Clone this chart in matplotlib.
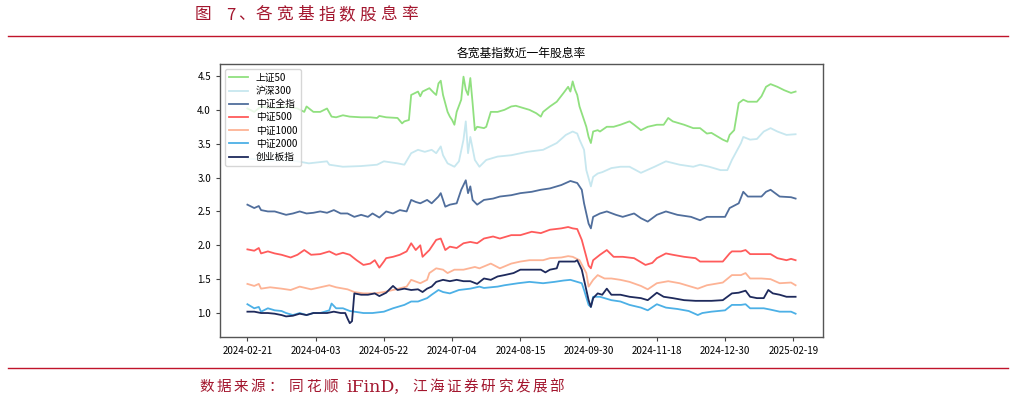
import numpy as np
import matplotlib
matplotlib.use("Agg")
import matplotlib.pyplot as plt

plt.rcParams['font.family'] = ['Noto Sans CJK SC', 'DejaVu Sans']
plt.rcParams['axes.unicode_minus'] = False

# x = trading-day index counted from 2024-02-21
tick_labels = ['2024-02-21', '2024-04-03', '2024-05-22', '2024-07-04', '2024-08-15',
               '2024-09-30', '2024-11-18', '2024-12-30', '2025-02-19']
tick_idx = [0, 30, 60, 90, 120, 150, 180, 210, 240]

sz50_idx = [0, 3, 6, 9, 13, 17, 22, 25, 26, 29, 32, 35, 37, 39, 42, 45, 50, 54, 57, 58, 61, 66, 68,
            69, 71, 72, 75, 76, 77, 80, 82, 83, 84, 85, 86, 88, 89, 90, 91, 92, 94, 95, 96, 97, 98, 99,
            100, 101, 104, 105, 107, 110, 113, 116, 118, 121, 124, 127, 129, 130, 133, 136, 139, 141,
            142, 143, 144, 145, 146, 149, 150, 151, 152, 154, 155, 158, 161, 164, 168, 170, 173, 176,
            180, 183, 185, 187, 192, 196, 199, 202, 204, 207, 209, 211, 212, 214, 216, 218, 220, 224,
            226, 228, 230, 233, 236, 239, 241]
sz50_val = [4.02, 3.97, 4.05, 4.03, 4.02, 4.05, 4.02, 3.97, 4.05, 3.97, 3.97, 4.02, 3.90, 3.89, 3.92,
            3.90, 3.89, 3.89, 3.88, 3.91, 3.89, 3.88, 3.80, 3.83, 3.85, 4.22, 4.27, 4.20, 4.27, 4.32,
            4.25, 4.22, 4.39, 4.43, 4.22, 3.97, 3.90, 3.85, 3.78, 3.97, 4.15, 4.49, 4.30, 4.22, 4.47,
            4.10, 3.70, 3.75, 3.73, 3.75, 3.97, 3.97, 4.00, 4.05, 4.06, 4.03, 4.00, 3.95, 3.90, 3.97,
            4.05, 4.12, 4.25, 4.34, 4.27, 4.42, 4.30, 4.22, 4.05, 3.75, 3.60, 3.51, 3.68, 3.70, 3.68,
            3.75, 3.75, 3.78, 3.83, 3.78, 3.70, 3.75, 3.78, 3.78, 3.88, 3.83, 3.78, 3.73, 3.73, 3.65,
            3.66, 3.60, 3.56, 3.53, 3.63, 3.70, 4.10, 4.15, 4.12, 4.12, 4.20, 4.34, 4.38, 4.34, 4.29,
            4.25, 4.27]

hs300_idx = [0, 5, 10, 15, 22, 27, 35, 36, 42, 50, 57, 60, 66, 69, 72, 75, 78, 81, 83, 85, 86, 88,
             91, 93, 95, 96, 97, 98, 100, 102, 105, 110, 116, 123, 130, 136, 140, 143, 145, 146, 148,
             149, 151, 152, 154, 156, 160, 164, 168, 173, 179, 184, 190, 196, 199, 203, 208, 211, 213,
             217, 218, 221, 224, 227, 230, 233, 237, 241]
hs300_val = [3.28, 3.27, 3.25, 3.26, 3.24, 3.21, 3.24, 3.19, 3.16, 3.17, 3.19, 3.24, 3.21, 3.19, 3.36,
             3.41, 3.38, 3.41, 3.36, 3.46, 3.33, 3.21, 3.16, 3.24, 3.56, 3.83, 3.36, 3.60, 3.26, 3.16,
             3.26, 3.31, 3.33, 3.38, 3.41, 3.51, 3.63, 3.68, 3.65, 3.56, 3.41, 3.11, 2.87, 3.01, 3.06,
             3.08, 3.14, 3.16, 3.16, 3.07, 3.16, 3.24, 3.19, 3.16, 3.19, 3.16, 3.11, 3.11, 3.26, 3.51,
             3.60, 3.56, 3.57, 3.68, 3.73, 3.68, 3.63, 3.64]

zzqz_idx = [0, 3, 5, 6, 9, 12, 15, 17, 20, 23, 26, 29, 32, 35, 38, 41, 44, 47, 50, 53, 55, 58, 61,
            64, 67, 70, 72, 74, 76, 79, 81, 84, 85, 87, 89, 92, 94, 96, 97, 98, 99, 101, 104, 108,
            111, 116, 120, 125, 129, 133, 138, 142, 145, 147, 148, 150, 151, 152, 155, 158, 162, 165,
            170, 173, 176, 180, 184, 189, 195, 199, 202, 207, 210, 212, 216, 218, 220, 223, 226, 228,
            230, 232, 234, 239, 241]
zzqz_val = [2.60, 2.55, 2.58, 2.52, 2.50, 2.50, 2.47, 2.45, 2.47, 2.50, 2.47, 2.48, 2.50, 2.48, 2.52,
            2.47, 2.47, 2.42, 2.45, 2.42, 2.47, 2.41, 2.50, 2.47, 2.52, 2.50, 2.67, 2.64, 2.62, 2.67,
            2.62, 2.72, 2.77, 2.57, 2.60, 2.62, 2.82, 2.96, 2.77, 2.87, 2.67, 2.60, 2.67, 2.69, 2.72,
            2.74, 2.77, 2.79, 2.82, 2.84, 2.89, 2.95, 2.92, 2.82, 2.62, 2.32, 2.25, 2.42, 2.47, 2.50,
            2.45, 2.42, 2.47, 2.40, 2.35, 2.45, 2.50, 2.45, 2.42, 2.37, 2.42, 2.42, 2.42, 2.55, 2.62,
            2.79, 2.72, 2.72, 2.72, 2.79, 2.82, 2.77, 2.72, 2.71, 2.69]

zz500_idx = [0, 3, 5, 6, 9, 12, 15, 19, 22, 25, 28, 32, 36, 39, 42, 45, 48, 51, 54, 56, 58, 60, 61,
             64, 67, 70, 72, 74, 76, 77, 80, 83, 85, 87, 89, 92, 95, 98, 101, 104, 108, 111, 116, 120,
             125, 129, 133, 138, 141, 143, 145, 147, 149, 150, 151, 152, 155, 158, 161, 165, 170, 175,
             178, 180, 184, 187, 192, 197, 199, 204, 209, 212, 213, 217, 219, 221, 227, 230, 233, 237,
             239, 241]
zz500_val = [1.94, 1.92, 1.96, 1.88, 1.91, 1.88, 1.86, 1.82, 1.86, 1.93, 1.86, 1.87, 1.91, 1.86, 1.89,
             1.86, 1.78, 1.71, 1.73, 1.78, 1.67, 1.76, 1.81, 1.83, 1.86, 1.91, 2.03, 1.93, 2.00, 1.83,
             1.93, 2.08, 2.10, 1.93, 1.98, 1.96, 2.03, 2.05, 2.03, 2.10, 2.13, 2.10, 2.15, 2.15, 2.20,
             2.18, 2.23, 2.25, 2.27, 2.25, 2.24, 2.08, 1.83, 1.70, 1.66, 1.78, 1.86, 1.93, 1.83, 1.83,
             1.81, 1.71, 1.74, 1.81, 1.88, 1.86, 1.83, 1.81, 1.76, 1.76, 1.76, 1.88, 1.91, 1.91, 1.93,
             1.87, 1.87, 1.87, 1.81, 1.78, 1.80, 1.78]

zz1000_idx = [0, 3, 5, 6, 10, 15, 19, 23, 28, 32, 36, 39, 44, 47, 51, 56, 60, 64, 70, 72, 76, 79,
              80, 83, 86, 88, 91, 95, 100, 102, 107, 111, 116, 120, 124, 130, 133, 138, 141, 143, 146,
              149, 150, 152, 154, 157, 160, 164, 168, 173, 176, 180, 185, 190, 193, 198, 202, 209, 213,
              217, 219, 221, 226, 230, 234, 239, 241]
zz1000_val = [1.43, 1.40, 1.43, 1.36, 1.38, 1.36, 1.34, 1.39, 1.35, 1.38, 1.41, 1.38, 1.35, 1.31, 1.29,
              1.29, 1.31, 1.34, 1.39, 1.49, 1.44, 1.49, 1.59, 1.66, 1.64, 1.59, 1.64, 1.64, 1.68, 1.66,
              1.73, 1.66, 1.73, 1.76, 1.78, 1.78, 1.81, 1.82, 1.84, 1.83, 1.78, 1.59, 1.39, 1.49, 1.56,
              1.51, 1.51, 1.49, 1.46, 1.40, 1.35, 1.44, 1.47, 1.44, 1.41, 1.36, 1.41, 1.45, 1.56, 1.56,
              1.59, 1.51, 1.51, 1.50, 1.44, 1.45, 1.41]

zz2000_idx = [0, 3, 5, 6, 9, 12, 15, 17, 20, 23, 26, 29, 32, 36, 37, 39, 42, 45, 47, 51, 55, 60, 64,
              69, 72, 75, 79, 81, 84, 86, 89, 93, 98, 102, 104, 110, 113, 119, 124, 130, 135, 139, 142,
              145, 147, 148, 150, 151, 152, 155, 160, 164, 168, 173, 176, 180, 184, 189, 194, 198, 200,
              204, 210, 213, 217, 219, 221, 227, 230, 234, 239, 241]
zz2000_val = [1.13, 1.07, 1.09, 1.02, 1.07, 1.04, 1.03, 1.00, 0.97, 1.00, 0.97, 1.00, 1.00, 1.04, 1.14,
              1.07, 1.07, 1.03, 1.02, 1.00, 1.00, 1.02, 1.07, 1.12, 1.17, 1.17, 1.22, 1.27, 1.34, 1.31,
              1.29, 1.34, 1.36, 1.39, 1.37, 1.39, 1.41, 1.44, 1.46, 1.44, 1.46, 1.48, 1.49, 1.46, 1.44,
              1.34, 1.12, 1.09, 1.24, 1.24, 1.19, 1.17, 1.12, 1.08, 1.04, 1.13, 1.08, 1.06, 1.03, 0.97,
              1.00, 1.02, 1.04, 1.12, 1.12, 1.13, 1.07, 1.07, 1.05, 1.02, 1.02, 0.99]

cyb_idx = [0, 3, 6, 9, 12, 15, 17, 20, 23, 26, 29, 32, 35, 38, 41, 43, 44, 45, 46, 47, 50, 53, 56,
           58, 61, 64, 66, 69, 72, 75, 77, 79, 81, 83, 86, 89, 92, 95, 98, 101, 104, 107, 110, 113,
           117, 120, 124, 129, 131, 133, 136, 137, 141, 144, 145, 146, 147, 149, 150, 151, 152, 154,
           156, 158, 160, 164, 168, 173, 176, 180, 183, 187, 192, 197, 204, 209, 213, 216, 219, 221,
           224, 227, 229, 231, 234, 237, 241]
cyb_val = [1.02, 1.02, 1.00, 1.00, 0.99, 0.97, 0.95, 0.96, 0.99, 0.97, 1.00, 1.00, 1.00, 1.02, 1.00,
           1.00, 0.92, 0.85, 0.88, 1.29, 1.27, 1.27, 1.29, 1.25, 1.30, 1.40, 1.34, 1.36, 1.34, 1.35,
           1.31, 1.36, 1.39, 1.46, 1.49, 1.47, 1.49, 1.47, 1.47, 1.43, 1.51, 1.49, 1.54, 1.56, 1.59,
           1.64, 1.64, 1.64, 1.60, 1.64, 1.66, 1.76, 1.76, 1.76, 1.78, 1.71, 1.64, 1.34, 1.19, 1.09,
           1.22, 1.29, 1.27, 1.36, 1.27, 1.27, 1.24, 1.22, 1.19, 1.30, 1.24, 1.22, 1.19, 1.18, 1.18,
           1.19, 1.29, 1.30, 1.33, 1.24, 1.22, 1.22, 1.34, 1.29, 1.27, 1.24, 1.24]

series = [
    ('上证50', sz50_idx, sz50_val, '#90e07f'),
    ('沪深300', hs300_idx, hs300_val, '#c7e7ef'),
    ('中证全指', zzqz_idx, zzqz_val, '#506e9c'),
    ('中证500', zz500_idx, zz500_val, '#ff5b5b'),
    ('中证1000', zz1000_idx, zz1000_val, '#fdb395'),
    ('中证2000', zz2000_idx, zz2000_val, '#4cb0e6'),
    ('创业板指', cyb_idx, cyb_val, '#1e2a5c'),
]

W, H = 1015.0, 404.0
red = '#c0142a'
txt_red = '#a3162e'
fig = plt.figure(figsize=(10.15, 4.04), dpi=100)


def spaced(text, x0, y, pitch, size):
    # draw characters one by one to mimic the wide letter spacing of the report
    for k, ch in enumerate(text):
        fig.text((x0 + k * pitch) / W, 1 - y / H, ch, color=txt_red, fontsize=size,
                 ha='left', va='center')


# header
spaced('图', 195, 15, 20.7, 12)
fig.text(226 / W, 1 - 15 / H, '7', color=txt_red, fontsize=12, ha='left', va='center')
spaced('、', 238, 15, 20.7, 12)
spaced('各宽基指数股息率', 256, 15, 20.7, 12)
fig.add_artist(plt.Line2D([8 / W, 1008 / W], [1 - 36 / H, 1 - 36 / H], color=red, lw=1.0))

# footer
fig.add_artist(plt.Line2D([8 / W, 1008 / W], [1 - 368 / H, 1 - 368 / H], color=red, lw=1.0))
spaced('数据来源：', 199, 387, 17.3, 10.5)
spaced('同花顺', 289, 387, 17.3, 10.5)
fig.text(346 / W, 1 - 387 / H, 'iFinD', color=txt_red, fontsize=12.5, ha='left', va='center',
         family='DejaVu Serif')
spaced('，', 393, 387, 17.3, 10.5)
spaced('江海证券研究发展部', 412, 387, 17.2, 10.5)

ax = fig.add_axes([220 / W, 1 - 337 / H, 603 / W, 273 / H])
for name, xi, yv, c in series:
    ax.plot(xi, yv, color=c, lw=1.3, label=name)

ax.set_xticks(tick_idx)
ax.set_xticklabels(tick_labels)
ax.set_xlim(-12.05, 253.05)
ax.set_ylim(0.646, 4.677)
ax.set_yticks([1.0, 1.5, 2.0, 2.5, 3.0, 3.5, 4.0, 4.5])
ax.tick_params(labelsize=7, length=3, color='#444444')
for s in ax.spines.values():
    s.set_color('#555555')
    s.set_linewidth(1.0)
ax.set_title('各宽基指数近一年股息率', fontsize=8.5, pad=5)
ax.legend(loc='upper left', fontsize=7, labelspacing=0.33, handlelength=2.0,
          borderpad=0.4, frameon=True, framealpha=0.8)

fig.savefig('out.png', dpi=100)
